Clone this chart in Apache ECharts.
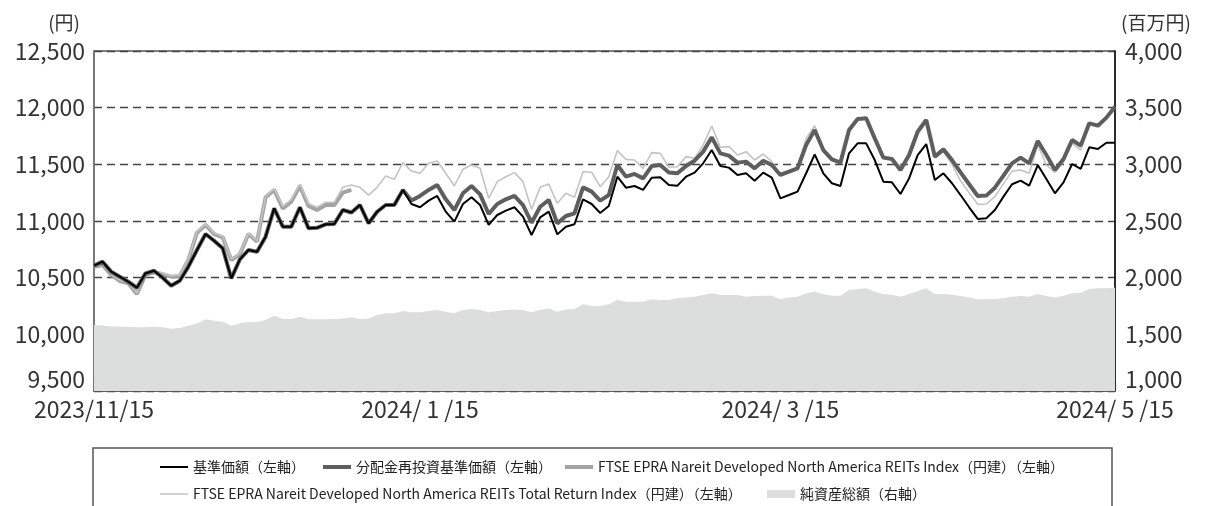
<!DOCTYPE html>
<html>
<head>
<meta charset="utf-8">
<script src="https://cdn.jsdelivr.net/npm/echarts@6/dist/echarts.min.js"></script>
<style>
  html, body { margin: 0; padding: 0; background: #fff; }
  #main { width: 1206px; height: 506px; }
</style>
</head>
<body>
<div id="main"></div>
<script>
// 営業日（カテゴリ）
const monthDays = [
  ['2023/11', [15, 16, 17, 20, 21, 22, 24, 27, 28, 29, 30]],
  ['2023/12', [1, 4, 5, 6, 7, 8, 11, 12, 13, 14, 15, 18, 19, 20, 21, 22, 25, 26, 27, 28, 29]],
  ['2024/1', [4, 5, 9, 10, 11, 12, 15, 16, 17, 18, 19, 22, 23, 24, 25, 26, 29, 30, 31]],
  ['2024/2', [1, 2, 5, 6, 7, 8, 9, 13, 14, 15, 16, 19, 20, 21, 22, 26, 27, 28, 29]],
  ['2024/3', [1, 4, 5, 6, 7, 8, 11, 12, 13, 14, 15, 18, 19, 21, 22, 25, 26, 27, 28, 29]],
  ['2024/4', [1, 2, 3, 4, 5, 8, 9, 10, 11, 12, 15, 16, 17, 18, 19, 22, 23, 24, 25, 26, 30]],
  ['2024/5', [1, 2, 7, 8, 9, 10, 13, 14, 15]]
];
const dates = [];
monthDays.forEach(function (m) {
  m[1].forEach(function (d) { dates.push(m[0] + '/' + d); });
});

// 目盛ラベル
const tickDates = ['2023/11/15', '2024/1/15', '2024/3/15', '2024/5/15'];
const tickTexts = ['2023/11/15', '2024/ 1 /15', '2024/ 3 /15', '2024/ 5 /15'];

// 基準価額（円）
const navValues = [
  10606, 10641, 10553, 10509, 10464, 10411, 10538, 10561, 10500, 10429,
  10473, 10597, 10744, 10885, 10826, 10759, 10494, 10662, 10744, 10729,
  10862, 11112, 10950, 10950, 11121, 10935, 10940, 10971, 10974, 11097,
  11075, 11141, 10979, 11082, 11141, 11141, 11274, 11150, 11121, 11180,
  11221, 11082, 10994, 11150, 11209, 11141, 10965, 11053, 11091, 11121,
  11038, 10876, 11032, 11082, 10882, 10950, 10971, 11191, 11150, 11071,
  11132, 11391, 11294, 11309, 11274, 11382, 11385, 11318, 11312, 11391,
  11427, 11509, 11626, 11485, 11471, 11406, 11421, 11356, 11427, 11382,
  11200, 11229, 11259, 11421, 11588, 11421, 11333, 11309, 11597, 11685,
  11685, 11538, 11347, 11341, 11238, 11376, 11582, 11679, 11362, 11421,
  11333, 11229, 11121, 11018, 11024, 11097, 11215, 11324, 11356, 11312,
  11494, 11371, 11244, 11341, 11503, 11459, 11650, 11635, 11691, 11691
];

// 分配金再投資基準価額（円）
const reinvestValues = [
  10606, 10641, 10553, 10509, 10464, 10411, 10538, 10561, 10500, 10429,
  10473, 10597, 10744, 10885, 10826, 10759, 10494, 10662, 10744, 10729,
  10862, 11112, 10950, 10950, 11121, 10935, 10940, 10971, 10974, 11097,
  11075, 11141, 10979, 11082, 11141, 11141, 11274, 11180, 11221, 11274,
  11318, 11191, 11097, 11244, 11309, 11235, 11062, 11150, 11191, 11221,
  11141, 10985, 11126, 11185, 10979, 11044, 11068, 11297, 11259, 11180,
  11229, 11494, 11391, 11415, 11376, 11485, 11494, 11427, 11421, 11485,
  11532, 11612, 11738, 11597, 11577, 11515, 11524, 11465, 11532, 11494,
  11406, 11435, 11465, 11671, 11803, 11626, 11544, 11515, 11803, 11900,
  11906, 11729, 11559, 11547, 11450, 11582, 11788, 11891, 11568, 11632,
  11538, 11429, 11324, 11221, 11224, 11294, 11400, 11509, 11559, 11509,
  11706, 11582, 11450, 11547, 11715, 11665, 11862, 11841, 11912, 12009
];

// FTSE EPRA Nareit Developed North America REITs Index（円建）
const indexValues = [
  10597, 10612, 10524, 10471, 10450, 10356, 10524, 10547, 10532, 10509,
  10515, 10656, 10897, 10965, 10885, 10856, 10656, 10706, 10885, 10818,
  11209, 11274, 11112, 11171, 11309, 11132, 11097, 11141, 11141, 11250,
  11274
];

// FTSE EPRA Nareit Developed North America REITs Total Return Index（円建）
const totalReturnValues = [
  10605, 10620, 10532, 10479, 10458, 10364, 10532, 10555, 10540, 10517,
  10523, 10664, 10905, 10973, 10893, 10864, 10664, 10714, 10893, 10826,
  11215, 11285, 11130, 11190, 11325, 11155, 11120, 11165, 11165, 11297,
  11318, 11297, 11229, 11297, 11397, 11368, 11515, 11440, 11421, 11509,
  11529, 11421, 11309, 11456, 11494, 11465, 11200, 11347, 11391, 11427,
  11347, 11103, 11297, 11326, 11156, 11244, 11209, 11435, 11430, 11303,
  11391, 11621, 11544, 11538, 11465, 11603, 11597, 11474, 11479, 11568,
  11553, 11671, 11838, 11650, 11656, 11582, 11612, 11538, 11591, 11524,
  11406, 11435, 11465, 11729, 11840, 11626, 11544, 11515, 11803, 11900,
  11906, 11729, 11559, 11547, 11450, 11582, 11788, 11891, 11555, 11612,
  11500, 11355, 11250, 11147, 11150, 11215, 11330, 11440, 11450, 11421,
  11671, 11494, 11430, 11520, 11685, 11626, 11862, 11841, 11912, 12009
];

// 純資産総額（百万円）
const netAssetValues = [
  1582, 1578, 1570, 1568, 1565, 1562, 1562, 1568, 1562, 1550,
  1555, 1575, 1595, 1632, 1620, 1612, 1576, 1597, 1609, 1609,
  1626, 1665, 1635, 1635, 1656, 1632, 1632, 1632, 1635, 1640,
  1650, 1635, 1640, 1670, 1685, 1685, 1706, 1694, 1694, 1706,
  1715, 1700, 1685, 1715, 1723, 1715, 1694, 1706, 1715, 1720,
  1715, 1694, 1715, 1729, 1700, 1720, 1723, 1765, 1750, 1750,
  1765, 1803, 1788, 1788, 1788, 1809, 1803, 1803, 1818, 1824,
  1832, 1847, 1862, 1847, 1847, 1847, 1832, 1838, 1841, 1841,
  1809, 1824, 1832, 1862, 1876, 1853, 1841, 1841, 1891, 1900,
  1906, 1876, 1853, 1850, 1832, 1856, 1882, 1906, 1856, 1856,
  1850, 1838, 1826, 1809, 1809, 1812, 1818, 1832, 1838, 1832,
  1856, 1838, 1824, 1841, 1862, 1868, 1900, 1906, 1906, 1912
];

const seriesNames = [
  '基準価額（左軸）',
  '分配金再投資基準価額（左軸）',
  'FTSE EPRA Nareit Developed North America REITs Index（円建）（左軸）',
  'FTSE EPRA Nareit Developed North America REITs Total Return Index（円建）（左軸）',
  '純資産総額（右軸）'
];

const FONT = '"Noto Sans CJK JP", "Noto Sans", sans-serif';

// 色と線幅
const COLOR_NAV = '#000';
const COLOR_REINVEST = '#5e5e5e';
const COLOR_INDEX = '#a3a3a3';
const COLOR_TR = '#c4c4c4';
const COLOR_ASSET = '#dcdddd';

function fmt(v) {
  return v.toLocaleString('en-US');
}

function isTick(idx, value) {
  return tickDates.indexOf(value) >= 0;
}

// 凡例1項目分（線の太さに合わせた矩形アイコン）
function legendItem(name, color, left, top, height) {
  return {
    data: [{ name: name, icon: 'rect', itemStyle: { color: color } }],
    left: left,
    top: top,
    itemWidth: 28,
    itemHeight: height,
    textStyle: { fontFamily: FONT, fontSize: 14, color: '#222' },
    selectedMode: false
  };
}

let chart = echarts.init(document.getElementById('main'));

let option = {
  backgroundColor: '#fff',
  animation: false,
  textStyle: { fontFamily: FONT },
  grid: {
    left: 94,
    right: 91,
    top: 51,
    bottom: 115,
    show: true,
    borderColor: '#555',
    borderWidth: 1.5
  },
  legend: [
    legendItem(seriesNames[0], COLOR_NAV, 155, 455, 2),
    legendItem(seriesNames[1], COLOR_REINVEST, 318, 455, 4),
    legendItem(seriesNames[2], COLOR_INDEX, 560, 455, 4),
    legendItem(seriesNames[3], COLOR_TR, 155, 482, 1.5),
    legendItem(seriesNames[4], COLOR_ASSET, 762, 482, 8)
  ],
  graphic: [{
    type: 'rect',
    shape: { x: 93, y: 448, width: 1019, height: 80 },
    style: { fill: 'none', stroke: '#555', lineWidth: 1.5 },
    silent: true
  }],
  xAxis: {
    type: 'category',
    data: dates,
    boundaryGap: false,
    axisLine: { lineStyle: { color: '#555', width: 1.5 } },
    axisTick: {
      show: true,
      inside: true,
      length: 8,
      interval: isTick,
      lineStyle: { color: '#333', width: 1.2 }
    },
    axisLabel: {
      interval: isTick,
      margin: 7,
      fontSize: 23,
      color: '#333',
      fontFamily: FONT,
      formatter: function (value) {
        return tickTexts[tickDates.indexOf(value)];
      }
    },
    splitLine: { show: false }
  },
  yAxis: [{
    type: 'value',
    min: 9500,
    max: 12500,
    interval: 500,
    name: '(円)',
    nameLocation: 'end',
    nameGap: 19,
    nameTextStyle: { fontSize: 19, color: '#333', align: 'right', padding: [0, 14, 0, 0], fontFamily: FONT },
    axisLine: { show: true, lineStyle: { color: '#777', width: 1.5 } },
    axisTick: { show: false },
    axisLabel: {
      fontSize: 23, color: '#333', margin: 9, fontFamily: FONT, formatter: fmt,
      verticalAlignMinLabel: 'bottom'
    },
    splitLine: { show: true, lineStyle: { color: '#444', type: [8, 5], width: 1.3 } }
  }, {
    type: 'value',
    min: 1000,
    max: 4000,
    interval: 500,
    name: '(百万円)',
    nameLocation: 'end',
    nameGap: 19,
    nameTextStyle: { fontSize: 19, color: '#333', align: 'left', padding: [0, 0, 0, 6], fontFamily: FONT },
    axisLine: { show: true, lineStyle: { color: '#111', width: 1.5 } },
    axisTick: { show: false },
    axisLabel: {
      fontSize: 23, color: '#333', margin: 10, fontFamily: FONT, formatter: fmt,
      verticalAlignMinLabel: 'bottom'
    },
    splitLine: { show: false }
  }],
  series: [{
    name: seriesNames[4],
    type: 'line',
    yAxisIndex: 1,
    data: netAssetValues,
    symbol: 'none',
    lineStyle: { width: 0 },
    itemStyle: { color: COLOR_ASSET },
    areaStyle: { color: COLOR_ASSET, opacity: 1 },
    z: 1
  }, {
    name: seriesNames[2],
    type: 'line',
    data: indexValues,
    symbol: 'none',
    lineStyle: { color: COLOR_INDEX, width: 4 },
    itemStyle: { color: COLOR_INDEX },
    z: 2
  }, {
    name: seriesNames[3],
    type: 'line',
    data: totalReturnValues,
    symbol: 'none',
    lineStyle: { color: COLOR_TR, width: 1.6 },
    itemStyle: { color: COLOR_TR },
    z: 3
  }, {
    name: seriesNames[1],
    type: 'line',
    data: reinvestValues,
    symbol: 'none',
    lineStyle: { color: COLOR_REINVEST, width: 4 },
    itemStyle: { color: COLOR_REINVEST },
    z: 4
  }, {
    name: seriesNames[0],
    type: 'line',
    data: navValues,
    symbol: 'none',
    lineStyle: { color: COLOR_NAV, width: 2 },
    itemStyle: { color: COLOR_NAV },
    z: 5
  }]
};

chart.setOption(option);
</script>
</body>
</html>
